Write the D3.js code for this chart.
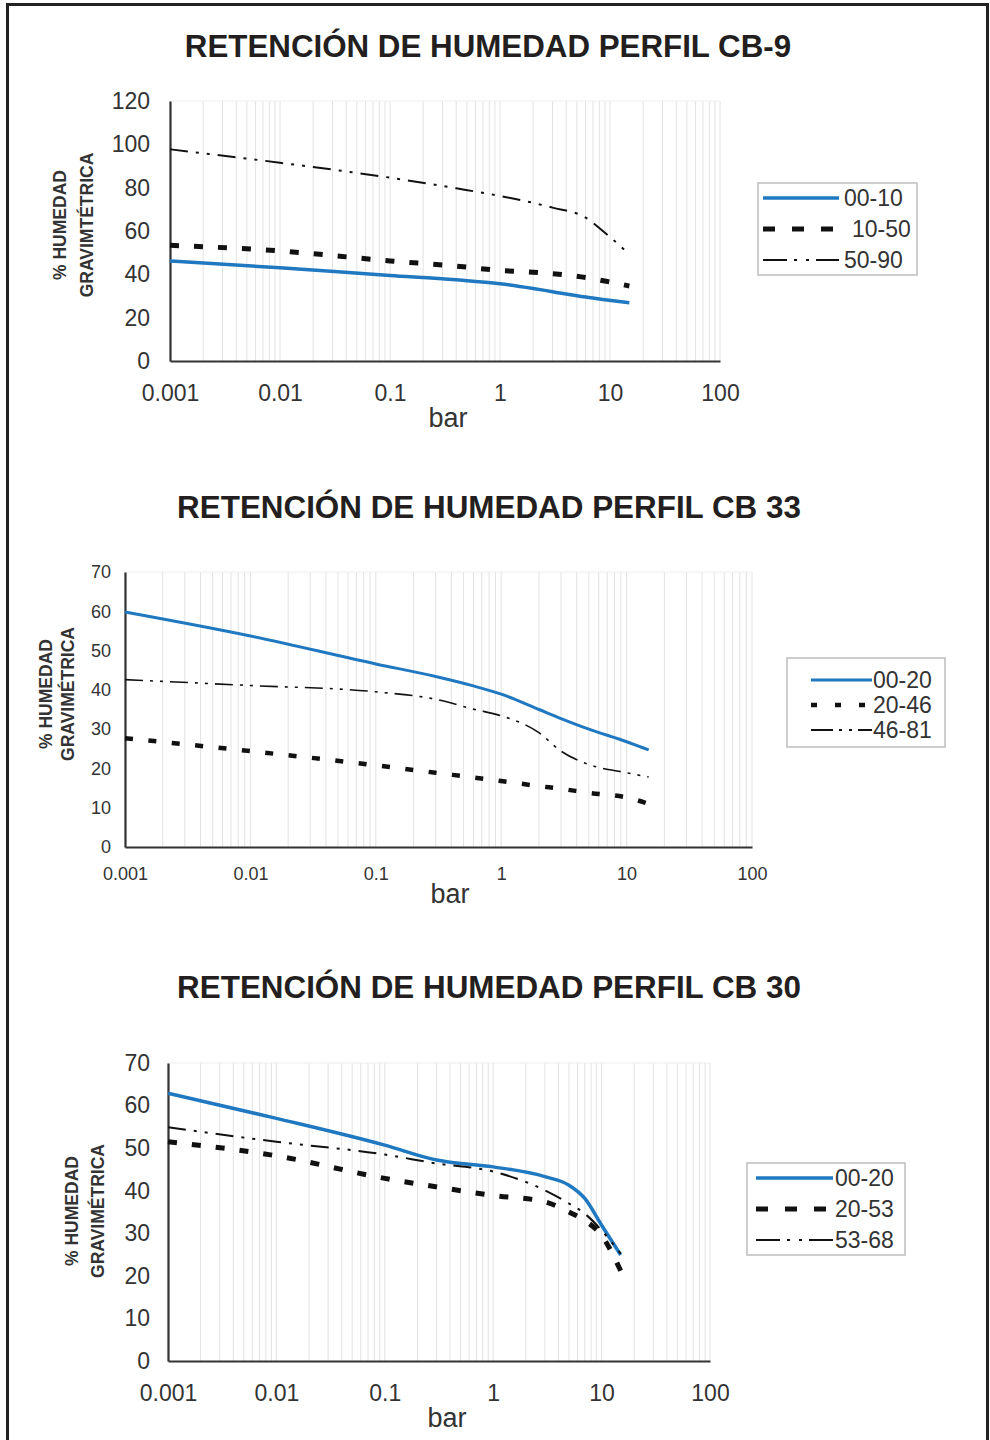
<!DOCTYPE html>
<html><head><meta charset="utf-8">
<script src="https://cdn.jsdelivr.net/npm/d3@7"></script>
<style>
html,body{margin:0;padding:0;background:#fff;}
svg{display:block;font-family:"Liberation Sans",Arial,sans-serif;}
</style></head>
<body>
<svg id="chart" width="990" height="1440"></svg>
<script>
// ---------- DATA ----------
const titles = ["RETENCIÓN DE HUMEDAD PERFIL CB-9", "RETENCIÓN DE HUMEDAD PERFIL CB 33", "RETENCIÓN DE HUMEDAD PERFIL CB 30"];
const yLabelLines1 = ["% HUMEDAD", "GRAVIMTÉTRICA"];
const yLabelLines23 = ["% HUMEDAD", "GRAVIMÉTRICA"];
const xAxisLabel = "bar";
const xTickValues = [0.001, 0.01, 0.1, 1, 10, 100];
const xTickLabels = ["0.001", "0.01", "0.1", "1", "10", "100"];
const yTicks1 = [0, 20, 40, 60, 80, 100, 120];
const yTicks23 = [0, 10, 20, 30, 40, 50, 60, 70];

// CB-9
const cb9Names = ["00-10", "10-50", "50-90"];
const cb9Pressure = [0.001, 0.01, 0.1, 0.4, 1, 2, 3, 6, 9, 15];
const cb9_00_10 = [46.2, 43.0, 39.5, 37.5, 35.7, 33.5, 32.0, 29.5, 28.3, 26.9];
const cb9_10_50 = [53.4, 50.8, 46.2, 43.8, 41.8, 41.0, 40.3, 38.5, 36.9, 34.6];
const cb9_50_90 = [97.7, 91.5, 84.6, 79.7, 76.2, 73.0, 70.8, 66.2, 59.2, 49.2];

// CB 33
const cb33Names = ["00-20", "20-46", "46-81"];
const cb33Pressure = [0.001, 0.01, 0.1, 0.3, 0.6, 1, 2, 3, 5, 10, 15];
const cb33_00_20 = [59.8, 53.7, 46.6, 43.4, 41.0, 38.9, 35.0, 32.7, 30.0, 26.8, 24.7];
const cb33_20_46 = [27.7, 24.4, 20.8, 18.9, 17.7, 16.8, 15.5, 14.8, 13.8, 12.6, 11.0];
const cb33_46_81 = [42.6, 41.1, 39.5, 37.6, 35.1, 33.4, 29.1, 24.4, 21.0, 18.9, 17.8];

// CB 30
const cb30Names = ["00-20", "20-53", "53-68"];
const cb30Pressure = [0.001, 0.01, 0.1, 0.3, 1, 3, 5, 7, 10, 15];
const cb30_00_20 = [62.9, 57.0, 50.7, 47.2, 45.6, 43.3, 41.3, 38.2, 31.9, 24.9];
const cb30_20_53 = [51.5, 48.2, 42.9, 40.9, 38.9, 37.4, 35.0, 33.0, 29.5, 21.2];
const cb30_53_68 = [54.9, 51.5, 48.5, 46.4, 44.5, 40.1, 37.0, 34.6, 30.7, 25.2];

// ---------- DRAW ----------
const svg = d3.select("#chart");
const BLUE = "#1f78c0";

svg.append("rect").attr("x", 7.5).attr("y", 4.5).attr("width", 980).attr("height", 1450)
  .attr("fill", "none").attr("stroke", "#222").attr("stroke-width", 3);

function drawChart(cfg) {
  const g = svg.append("g");
  const x = d3.scaleLog().domain([0.001, 100]).range([cfg.x0, cfg.x1]);
  const y = d3.scaleLinear().domain([0, cfg.yMax]).range([cfg.yBot, cfg.yTop]);

  // title
  g.append("text").attr("x", cfg.titleX).attr("y", cfg.titleY).attr("text-anchor", "middle")
    .attr("font-size", cfg.titleSize).attr("font-weight", "bold").attr("fill", "#231f20")
    .text(cfg.title);

  // vertical grid
  g.append("g").selectAll("line").data(x.ticks()).join("line")
    .attr("x1", d => x(d)).attr("x2", d => x(d)).attr("y1", cfg.yTop).attr("y2", cfg.yBot)
    .attr("stroke", "#e2e2e2").attr("stroke-width", 1);
  g.append("line").attr("x1", cfg.x0).attr("x2", cfg.x1).attr("y1", cfg.yTop).attr("y2", cfg.yTop)
    .attr("stroke", "#eeeeee").attr("stroke-width", 1);

  // axes
  const xAxis = d3.axisBottom(x).tickValues(xTickValues).tickFormat((d, i) => xTickLabels[i]).tickSize(0).tickPadding(cfg.xTickPad);
  const xa = g.append("g").attr("transform", `translate(0,${cfg.yBot})`).call(xAxis);
  xa.select(".domain").attr("stroke", "#333").attr("stroke-width", 2.2);
  xa.selectAll("text").attr("font-size", cfg.tickSize).attr("fill", "#333").attr("font-family", "Liberation Sans, Arial, sans-serif");

  const yAxis = d3.axisLeft(y).tickValues(cfg.yTicks).tickSize(0).tickPadding(cfg.yTickPad);
  const ya = g.append("g").attr("transform", `translate(${cfg.x0},0)`).call(yAxis);
  ya.select(".domain").attr("stroke", "#333").attr("stroke-width", 2.2);
  ya.selectAll("text").attr("font-size", cfg.tickSize).attr("fill", "#333").attr("font-family", "Liberation Sans, Arial, sans-serif");

  // axis labels
  g.append("text").attr("x", cfg.barX).attr("y", cfg.barY).attr("text-anchor", "middle")
    .attr("font-size", 27).attr("fill", "#333").text(xAxisLabel);
  cfg.yLabel.forEach((t, i) => {
    g.append("text").attr("transform", `translate(${cfg.yLabX[i]},${cfg.yLabY}) rotate(-90)`)
      .attr("text-anchor", "middle").attr("font-size", 17.5).attr("font-weight", "bold")
      .attr("fill", "#333").text(t);
  });

  // series
  const line = d3.line().x(d => x(d[0])).y(d => y(d[1])).curve(d3.curveMonotoneX);
  cfg.series.forEach(s => {
    g.append("path").datum(cfg.pressure.map((p, i) => [p, s.values[i]]))
      .attr("d", line).attr("fill", "none").attr("stroke", s.color)
      .attr("stroke-width", s.width).attr("stroke-dasharray", s.dash || null);
  });

  // legend
  const L = cfg.legend;
  g.append("rect").attr("x", L.x).attr("y", L.y).attr("width", L.w).attr("height", L.h)
    .attr("fill", "#fff").attr("stroke", "#bdbdbd").attr("stroke-width", 1.5);
  cfg.series.forEach((s, i) => {
    g.append("line").attr("x1", L.lx0).attr("x2", s.legEnd || L.lx1).attr("y1", L.rows[i]).attr("y2", L.rows[i])
      .attr("stroke", s.color).attr("stroke-width", s.legWidth || s.width)
      .attr("stroke-dasharray", s.legDash || s.dash || null);
    g.append("text").attr("x", L.tx + (L.txOff ? L.txOff[i] : 0)).attr("y", L.rows[i]).attr("dy", "0.35em")
      .attr("font-size", L.fs).attr("fill", "#333").text(s.name);
  });
}

drawChart({
  title: titles[0], titleX: 488, titleY: 57, titleSize: 31.3,
  x0: 170, x1: 720, yTop: 101, yBot: 361, yMax: 120, yTicks: yTicks1,
  tickSize: 23, xTickPad: 24, yTickPad: 20,
  barX: 448, barY: 427, yLabel: yLabelLines1, yLabX: [66, 93], yLabY: 225,
  pressure: cb9Pressure,
  series: [
    {name: cb9Names[0], values: cb9_00_10, color: BLUE, width: 3.5},
    {name: cb9Names[1], values: cb9_10_50, color: "#111", width: 5, dash: "9,15", legDash: "12,17"},
    {name: cb9Names[2], values: cb9_50_90, color: "#111", width: 2, dash: "18,8,3,8,3,8", legDash: "24,7,3,9,3,7"}
  ],
  legend: {x: 758, y: 183, w: 159, h: 92, rows: [198, 229, 260], lx0: 763, lx1: 839, tx: 844, txOff: [0, 8, 0], fs: 23}
});

drawChart({
  title: titles[1], titleX: 489, titleY: 518, titleSize: 31.4,
  x0: 125, x1: 752, yTop: 572, yBot: 847, yMax: 70, yTicks: yTicks23,
  tickSize: 18, xTickPad: 20, yTickPad: 14,
  barX: 450, barY: 903, yLabel: yLabelLines23, yLabX: [52, 74], yLabY: 694,
  pressure: cb33Pressure,
  series: [
    {name: cb33Names[0], values: cb33_00_20, color: BLUE, width: 3},
    {name: cb33Names[1], values: cb33_20_46, color: "#111", width: 4.5, dash: "8,15.5", legDash: "6,18", legEnd: 866},
    {name: cb33Names[2], values: cb33_46_81, color: "#111", width: 1.6, dash: "18,7,3,7,3,7", legDash: "22,6,3,7,3,6", legWidth: 1.8}
  ],
  legend: {x: 787, y: 658, w: 158, h: 89, rows: [680, 705, 730], lx0: 811, lx1: 872, tx: 873, fs: 23}
});

drawChart({
  title: titles[2], titleX: 489, titleY: 998, titleSize: 31.4,
  x0: 168, x1: 710, yTop: 1063, yBot: 1361, yMax: 70, yTicks: yTicks23,
  tickSize: 23, xTickPad: 24, yTickPad: 18,
  barX: 447, barY: 1427, yLabel: yLabelLines23, yLabX: [78, 104], yLabY: 1211,
  pressure: cb30Pressure,
  series: [
    {name: cb30Names[0], values: cb30_00_20, color: BLUE, width: 3.5},
    {name: cb30Names[1], values: cb30_20_53, color: "#111", width: 5, dash: "9,15", legDash: "12,17"},
    {name: cb30Names[2], values: cb30_53_68, color: "#111", width: 2, dash: "18,8,3,8,3,8", legDash: "24,7,3,9,3,7"}
  ],
  legend: {x: 747, y: 1163, w: 158, h: 92, rows: [1178, 1209, 1240], lx0: 756, lx1: 833, tx: 835, fs: 23}
});
</script>
</body></html>
